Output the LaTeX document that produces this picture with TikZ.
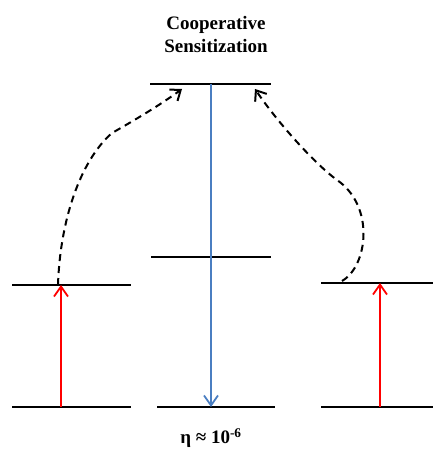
\documentclass[tikz,border=0pt]{standalone}
\usepackage{fontspec}
\setmainfont{Liberation Serif}
\usepackage{tikz}
\usetikzlibrary{arrows.meta, positioning}
\definecolor{myred}{rgb}{1, 0, 0}
\definecolor{myblue}{RGB}{74, 126, 193}
\tikzstyle{level} = [line width=2pt, black]
\tikzstyle{pump} = [line width=1.8pt, myred, -{Straight Barb[length=10pt, width=14pt]}]
\tikzstyle{emit} = [line width=1.8pt, myblue, -{Straight Barb[length=10pt, width=14pt]}]
\tikzstyle{transfer} = [line width=2pt, black, dash pattern=on 7pt off 5pt, -{Straight Barb[length=9pt, width=14pt]}]
\tikzstyle{label} = [font=\fontsize{19}{23}\selectfont\bfseries, align=center, inner sep=0pt]

\begin{document}
\begin{tikzpicture}[x=1pt, y=1pt]
\useasboundingbox (0,0) rectangle (433,451);

\node[label] (title) at (216,416) {Cooperative\\Sensitization};
\node[label] (eta) at (211,13) {η ≈ 10\textsuperscript{-6}};

\coordinate (lgL) at (12,44);   \coordinate (lgR) at (131,44);
\coordinate (leL) at (12,166);  \coordinate (leR) at (131,166);
\coordinate (mgL) at (157,44);  \coordinate (mgR) at (275,44);
\coordinate (mmL) at (151,194); \coordinate (mmR) at (271,194);
\coordinate (mtL) at (150,367); \coordinate (mtR) at (271,367);
\coordinate (rgL) at (321,44);  \coordinate (rgR) at (433,44);
\coordinate (reL) at (321,168); \coordinate (reR) at (433,168);

\draw[level] (lgL) -- (lgR);
\draw[level] (leL) -- (leR);
\draw[level] (mgL) -- (mgR);
\draw[level] (mmL) -- (mmR);
\draw[level] (mtL) -- (mtR);
\draw[level] (rgL) -- (rgR);
\draw[level] (reL) -- (reR);

\coordinate (leftfoot) at (61,44);
\coordinate (lefthead) at (61,166);
\coordinate (rightfoot) at (380,44);
\coordinate (righthead) at (380,168);
\coordinate (emittop) at (211,367);
\coordinate (emitfoot) at (211,44);

\draw[pump] (leftfoot) -- (lefthead);
\draw[pump] (rightfoot) -- (righthead);
\draw[emit] (emittop) -- (emitfoot);

\coordinate (leftstart) at (58,166);
\coordinate (leftbend) at (112,318);
\coordinate (leftend) at (182,362);
\coordinate (rightstart) at (342,170);
\coordinate (rightbend) at (337,271);
\coordinate (rightend) at (255,362);

\draw[transfer] (leftstart) .. controls (60,230) and (80,290) .. (leftbend)
  .. controls (135,331) and (160,346) .. (leftend);
\draw[transfer] (rightstart) .. controls (368,185) and (375,245) .. (rightbend)
  .. controls (315,287) and (278,328) .. (rightend);
\end{tikzpicture}
\end{document}
